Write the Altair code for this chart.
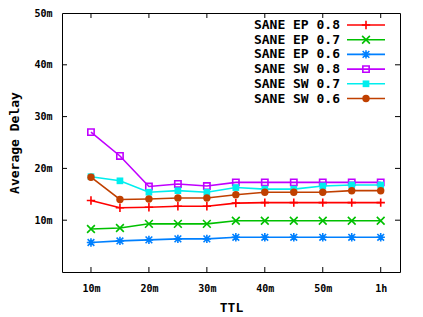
import altair as alt
import pandas as pd

ttl = [10, 15, 20, 25, 30, 35, 40, 45, 50, 55, 60]
series_names = ["SANE EP 0.8", "SANE EP 0.7", "SANE EP 0.6",
                "SANE SW 0.8", "SANE SW 0.7", "SANE SW 0.6"]
ep08 = [13.8, 12.4, 12.5, 12.7, 12.7, 13.3, 13.4, 13.4, 13.4, 13.4, 13.4]
ep07 = [8.3, 8.5, 9.3, 9.3, 9.3, 9.9, 9.9, 9.9, 9.9, 9.9, 9.9]
ep06 = [5.7, 6.0, 6.2, 6.4, 6.4, 6.7, 6.7, 6.7, 6.7, 6.7, 6.7]
sw08 = [27.0, 22.4, 16.5, 17.0, 16.6, 17.3, 17.3, 17.3, 17.3, 17.3, 17.3]
sw07 = [18.4, 17.6, 15.4, 15.7, 15.4, 16.3, 16.0, 16.0, 16.6, 16.8, 16.8]
sw06 = [18.3, 14.0, 14.1, 14.3, 14.3, 14.9, 15.4, 15.4, 15.4, 15.7, 15.7]
all_values = [ep08, ep07, ep06, sw08, sw07, sw06]

x_ticks = [10, 20, 30, 40, 50, 60]
y_ticks = [10, 20, 30, 40, 50]

colors = ["#ff0000", "#00c000", "#0080ff", "#c000ff", "#00eeee", "#c04000"]
PLUS = "M-1,0L1,0M0,-1L0,1"
CROSS = "M-1,-1L1,1M-1,1L1,-1"
STAR = "M-1,0L1,0M0,-1L0,1M-0.8,-0.8L0.8,0.8M-0.8,0.8L0.8,-0.8"
shapes = [PLUS, CROSS, STAR, "square", "square", "circle"]
filled = [False, False, False, False, True, True]
sizes = [70, 60, 70, 40, 45, 55]

W, H = 338, 259
FONT = "DejaVu Sans Mono"

xscale = alt.Scale(domain=[5, 63.33], nice=False, zero=False)
yscale = alt.Scale(domain=[0, 50], nice=False, zero=False)

layers = []

# main data layers
for name, vals, col, shp, fil, sz in zip(series_names, all_values, colors, shapes, filled, sizes):
    df = pd.DataFrame({"ttl": ttl, "delay": vals, "series": name})
    enc_x = alt.X("ttl:Q", scale=xscale,
                  axis=alt.Axis(values=x_ticks, title="TTL",
                                labelExpr="datum.value == 60 ? '1h' : datum.value + 'm'",
                                tickSize=0, domain=False, grid=False,
                                labelPadding=11, titlePadding=8,
                                labelFont=FONT, labelFontSize=10, labelFontWeight="bold",
                                titleFont=FONT, titleFontSize=13, titleFontWeight="bold",
                                labelColor="black", titleColor="black"))
    enc_y = alt.Y("delay:Q", scale=yscale,
                  axis=alt.Axis(values=y_ticks, title="Average Delay",
                                labelExpr="datum.value + 'm'",
                                tickSize=0, domain=False, grid=False,
                                labelPadding=10, titlePadding=12,
                                labelFont=FONT, labelFontSize=10, labelFontWeight="bold",
                                titleFont=FONT, titleFontSize=13, titleFontWeight="bold",
                                labelColor="black", titleColor="black"))
    base = alt.Chart(df)
    layers.append(base.mark_line(color=col, strokeWidth=1.6).encode(x=enc_x, y=enc_y))
    layers.append(base.mark_point(shape=shp, size=sz, filled=fil, color=col,
                                  strokeWidth=1.6, opacity=1).encode(x="ttl:Q", y="delay:Q"))

# inward ticks
xt = pd.DataFrame({"t": x_ticks})
yt = pd.DataFrame({"t": [10, 20, 30, 40]})
layers.append(alt.Chart(xt).mark_rule(color="black", strokeWidth=1).encode(
    x="t:Q", y=alt.value(H), y2=alt.value(H - 5)))
layers.append(alt.Chart(xt).mark_rule(color="black", strokeWidth=1).encode(
    x="t:Q", y=alt.value(0), y2=alt.value(5)))
layers.append(alt.Chart(yt).mark_rule(color="black", strokeWidth=1).encode(
    y="t:Q", x=alt.value(0), x2=alt.value(5)))
layers.append(alt.Chart(yt).mark_rule(color="black", strokeWidth=1).encode(
    y="t:Q", x=alt.value(W), x2=alt.value(W - 5)))

# legend (gnuplot style: label on left, sample on right)
one = pd.DataFrame({"a": [0]})
for i, (name, col, shp, fil, sz) in enumerate(zip(series_names, colors, shapes, filled, sizes)):
    yy = 12 + 14.7 * i
    layers.append(alt.Chart(one).mark_text(align="right", baseline="middle", font=FONT,
                                           fontSize=13, fontWeight="bold", color="black",
                                           text=name).encode(x=alt.value(278), y=alt.value(yy)))
    layers.append(alt.Chart(one).mark_rule(color=col, strokeWidth=1.6).encode(
        x=alt.value(285), x2=alt.value(323), y=alt.value(yy)))
    layers.append(alt.Chart(one).mark_point(shape=shp, size=sz, filled=fil, color=col,
                                            strokeWidth=1.6, opacity=1).encode(
        x=alt.value(304), y=alt.value(yy)))

chart = alt.layer(*layers).properties(
    width=W, height=H,
    background="white",
    autosize=alt.AutoSizeParams(type="none"),
    padding={"left": 54, "top": 5, "right": 15, "bottom": 46},
).configure_view(stroke="black", strokeWidth=1)

chart.save("out.html", embed_options={"renderer": "svg", "actions": False})
